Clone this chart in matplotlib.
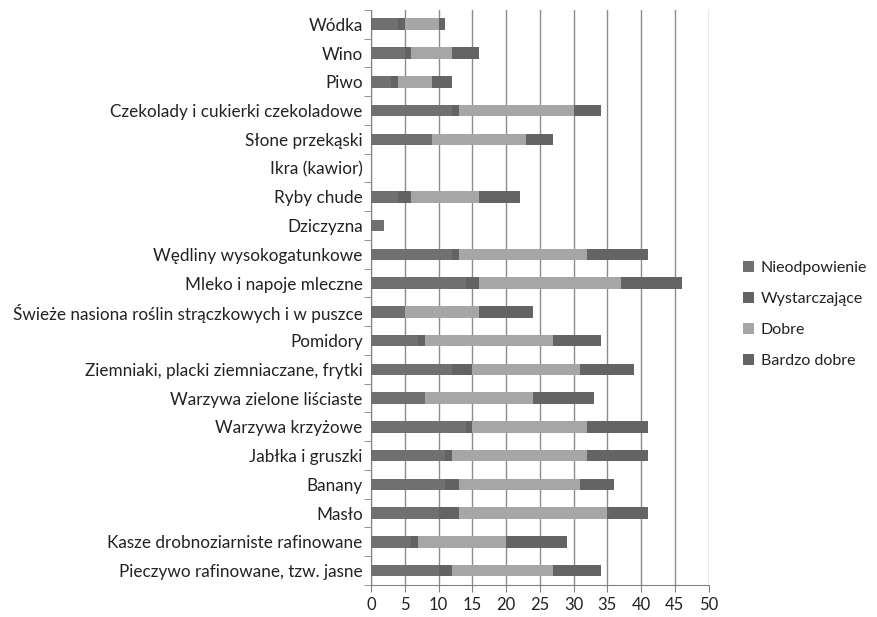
import matplotlib.pyplot as plt
import numpy as np

plt.rcParams['font.family'] = ['Lato', 'DejaVu Sans']

categories = [
    "Wódka", "Wino", "Piwo", "Czekolady i cukierki czekoladowe",
    "Słone przekąski", "Ikra (kawior)", "Ryby chude", "Dziczyzna",
    "Wędliny wysokogatunkowe", "Mleko i napoje mleczne",
    "Świeże nasiona roślin strączkowych i w puszce", "Pomidory",
    "Ziemniaki, placki ziemniaczane, frytki", "Warzywa zielone liściaste",
    "Warzywa krzyżowe", "Jabłka i gruszki", "Banany", "Masło",
    "Kasze drobnoziarniste rafinowane", "Pieczywo rafinowane, tzw. jasne",
]
nieodpowienie = [4, 5, 3, 12, 9, 0, 4, 2, 12, 14, 5, 7, 12, 8, 14, 11, 11, 10, 6, 10]
wystarczajace = [1, 1, 1, 1, 0, 0, 2, 0, 1, 2, 0, 1, 3, 0, 1, 1, 2, 3, 1, 2]
dobre = [5, 6, 5, 17, 14, 0, 10, 0, 19, 21, 11, 19, 16, 16, 17, 20, 18, 22, 13, 15]
bardzo_dobre = [1, 4, 3, 4, 4, 0, 6, 0, 9, 9, 8, 7, 8, 9, 9, 9, 5, 6, 9, 7]

series = [
    ("Nieodpowienie", nieodpowienie, "#707070"),
    ("Wystarczające", wystarczajace, "#636363"),
    ("Dobre", dobre, "#a6a6a6"),
    ("Bardzo dobre", bardzo_dobre, "#646464"),
]

fig = plt.figure(figsize=(8.77, 6.17), dpi=100)
ax = fig.add_axes([0.423, 0.052, 0.385, 0.932])

y = np.arange(len(categories))
left = np.zeros(len(categories))
for name, vals, col in series:
    ax.barh(y, vals, left=left, height=0.4, color=col, label=name, zorder=3)
    left += np.array(vals)

ax.set_ylim(len(categories) - 0.5, -0.5)
ax.set_xlim(0, 50)
ax.set_xticks(range(0, 51, 5))
ax.set_yticks(y)
ax.set_yticklabels(categories)
ax.set_yticks(np.arange(-0.5, len(categories), 1), minor=True)
ax.tick_params(axis='y', which='major', length=0, pad=6, labelsize=12.3, labelcolor="#222222")
ax.tick_params(axis='y', which='minor', length=5, color="#808080", direction='out')
ax.tick_params(axis='x', length=5, color="#808080", labelsize=12, labelcolor="#222222")
ax.grid(axis='x', color="#8c8c8c", linewidth=1, zorder=0)

for side in ('top', 'right'):
    ax.spines[side].set_visible(False)
for side in ('left', 'bottom'):
    ax.spines[side].set_color("#808080")

ax.legend(loc='center left', bbox_to_anchor=(1.06, 0.47), frameon=False,
          fontsize=11.5, handlelength=0.7, handleheight=0.7, handletextpad=0.4,
          labelspacing=1.05, labelcolor="#222222")

fig.savefig("out.png", dpi=100)
